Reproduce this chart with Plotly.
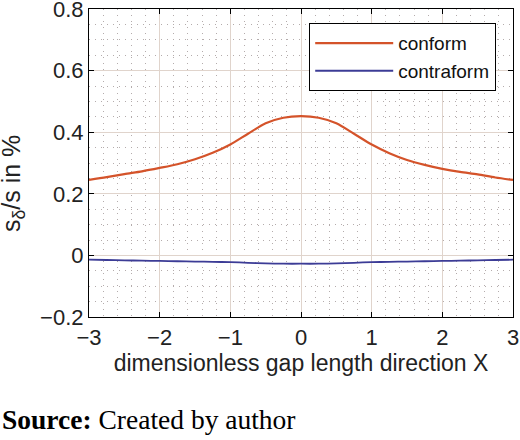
import plotly.graph_objects as go

x_vals = [-3, -2.75, -2.5, -2.25, -2, -1.75, -1.5, -1.25, -1, -0.75, -0.5, -0.25, 0,
          0.25, 0.5, 0.75, 1, 1.25, 1.5, 1.75, 2, 2.25, 2.5, 2.75, 3]
conform = [0.245, 0.254, 0.264, 0.273, 0.284, 0.296, 0.312, 0.333, 0.360, 0.395, 0.429, 0.447, 0.452,
           0.447, 0.429, 0.395, 0.360, 0.332, 0.310, 0.294, 0.281, 0.271, 0.263, 0.253, 0.245]
contraform = [-0.014, -0.015, -0.016, -0.017, -0.018, -0.019, -0.020, -0.021, -0.022, -0.024, -0.026, -0.027, -0.027,
              -0.027, -0.026, -0.024, -0.022, -0.021, -0.020, -0.019, -0.018, -0.017, -0.016, -0.015, -0.014]

x_ticks = [-3, -2, -1, 0, 1, 2, 3]
y_ticks = [-0.2, 0, 0.2, 0.4, 0.6, 0.8]
y_ticktext = ["\u22120.2", "0", "0.2", "0.4", "0.6", "0.8"]

SANS = "Liberation Sans, Arial"

fig = go.Figure()
fig.add_trace(go.Scatter(x=x_vals, y=conform, mode="lines", name="conform",
                         line=dict(color="#D4532A", width=2.2, shape="spline", smoothing=0.8)))
fig.add_trace(go.Scatter(x=x_vals, y=contraform, mode="lines", name="contraform",
                         line=dict(color="#3C3C96", width=1.8, shape="spline", smoothing=0.8)))

axis_common = dict(
    showline=True, linecolor="black", linewidth=1.2, mirror="ticks",
    ticks="inside", ticklen=5, tickcolor="black", tickwidth=1.2,
    showgrid=True, gridcolor="#e0d4cc", gridwidth=1.2,
    zeroline=False, ticklabeloverflow="allow",
    tickfont=dict(family=SANS, size=22, color="#222"),
)
minor_common = dict(showgrid=True, griddash="1px,5px", gridcolor="#b4acac", gridwidth=1.3, ticks="")

fig.update_layout(
    width=520, height=440,
    paper_bgcolor="white", plot_bgcolor="white",
    margin=dict(l=89, r=7, t=9, b=123, autoexpand=False),
    font=dict(family=SANS, color="#222"),
    xaxis=dict(range=[-3, 3], tickvals=x_ticks,
               title=dict(text="dimensionless gap length direction X",
                          font=dict(size=23, family=SANS), standoff=6),
               minor=dict(dtick=0.2, **minor_common),
               **axis_common),
    yaxis=dict(range=[-0.2, 0.8], tickvals=y_ticks, ticktext=y_ticktext,
               minor=dict(dtick=0.05, **minor_common),
               **axis_common),
    legend=dict(x=(309 - 89) / 424, y=(317 - 23) / 308, xanchor="left", yanchor="top",
                bgcolor="white", bordercolor="black", borderwidth=1.2,
                font=dict(size=19, family=SANS, color="#111"),
                itemwidth=78, tracegroupgap=0),
    showlegend=True,
)

# y-axis title (as rotated text so its position can be matched)
fig.add_annotation(xref="paper", yref="paper", x=-(89 - 13) / 424, y=(317 - 184) / 308,
                   xanchor="center", yanchor="middle", showarrow=False, textangle=-90,
                   text="s<sub>δ</sub>/s in %",
                   font=dict(family=SANS, size=25, color="#222"))

fig.add_annotation(xref="paper", yref="paper", x=-89 / 424, y=-(437 - 317) / 308,
                   xanchor="left", yanchor="bottom", showarrow=False,
                   text="<b>Source:</b> Created by author",
                   font=dict(family="Liberation Serif, Times New Roman", size=27.5, color="black"))

fig.write_html("out.html", config={"displayModeBar": False},
               post_script="document.body.style.margin='0';document.body.style.overflow='hidden';")
